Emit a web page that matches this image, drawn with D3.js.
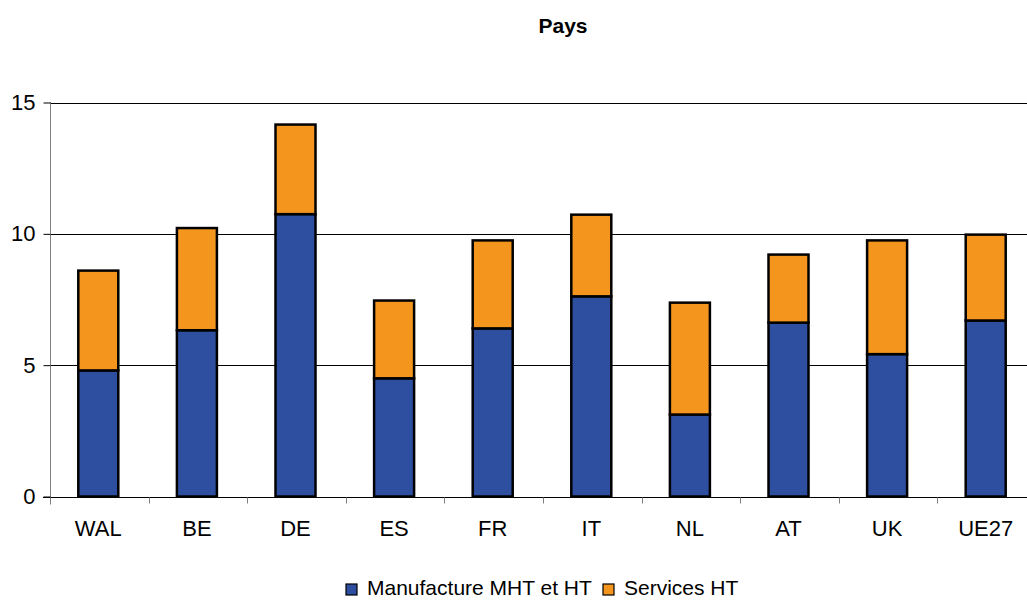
<!DOCTYPE html>
<html>
<head>
<meta charset="utf-8">
<script src="https://cdn.jsdelivr.net/npm/d3@7"></script>
<style>
  body { margin: 0; background: #fff; }
  svg { display: block; font-family: Arial, "Liberation Sans", sans-serif; }
</style>
</head>
<body>
<script>
// data
var categories = ["WAL", "BE", "DE", "ES", "FR", "IT", "NL", "AT", "UK", "UE27"];
var manufacture = [4.8, 6.33, 10.75, 4.5, 6.4, 7.62, 3.12, 6.62, 5.42, 6.7];
var services = [3.8, 3.89, 3.41, 2.96, 3.35, 3.11, 4.26, 2.59, 4.33, 3.27];
var seriesNames = ["Manufacture MHT et HT", "Services HT"];
var seriesColors = ["#2E4F9F", "#F4961E"];
var yTicks = [0, 5, 10, 15];

var width = 1027, height = 600;
var margin = {left: 50, top: 103, bottom: 104};
var plotRight = 1036;

var svg = d3.select("body").append("svg")
  .attr("width", width)
  .attr("height", height);

var x = d3.scaleBand()
  .domain(categories)
  .range([margin.left, plotRight]);

var y = d3.scaleLinear()
  .domain([0, 15])
  .range([height - margin.bottom + 0.5, margin.top - 0.5]);

// title
svg.append("text")
  .attr("x", 563)
  .attr("y", 33)
  .attr("text-anchor", "middle")
  .style("font-size", "21px")
  .style("font-weight", "bold")
  .text("Pays");

// gridlines
svg.append("g")
  .selectAll("line")
  .data(yTicks.slice(1))
  .enter().append("line")
  .attr("x1", margin.left)
  .attr("x2", width)
  .attr("y1", d => Math.round(y(d)) + 0.5)
  .attr("y2", d => Math.round(y(d)) + 0.5)
  .style("stroke", "#000")
  .style("stroke-width", 1);

// stacked bars
var stack = d3.stack().keys([0, 1])(categories.map((c, i) => [manufacture[i], services[i]]));
var barWidth = 40;

svg.append("g")
  .selectAll("g")
  .data(stack)
  .enter().append("g")
  .style("fill", (d, i) => seriesColors[i])
  .selectAll("rect")
  .data(d => d)
  .enter().append("rect")
  .attr("x", (d, i) => x(categories[i]) + x.bandwidth() / 2 - barWidth / 2 - 1)
  .attr("y", d => y(d[1]))
  .attr("width", barWidth)
  .attr("height", d => y(d[0]) - y(d[1]))
  .style("stroke", "#000")
  .style("stroke-width", 2.5);

// y axis
var yAxis = d3.axisLeft(y)
  .tickValues(yTicks)
  .tickSize(7)
  .tickPadding(8)
  .tickFormat(d3.format("d"));

var gy = svg.append("g")
  .attr("transform", "translate(" + (margin.left + 0.5) + ",0)")
  .call(yAxis);
gy.select(".domain").style("stroke", "#808080").attr("d", "M0," + (margin.top - 1) + "V" + (y(0) + 8));
gy.selectAll(".tick line").style("stroke", "#000");
gy.selectAll(".tick text").style("font-size", "22px").style("fill", "#000");

// x axis
var gx = svg.append("g")
  .attr("transform", "translate(0," + (Math.round(y(0)) + 0.5) + ")");
gx.append("line")
  .attr("x1", margin.left - 7)
  .attr("x2", width)
  .style("stroke", "#000");
gx.selectAll(".xtick")
  .data(categories)
  .enter().append("line")
  .attr("x1", d => Math.round(x(d)) + 0.5)
  .attr("x2", d => Math.round(x(d)) + 0.5)
  .attr("y1", 0)
  .attr("y2", 6)
  .style("stroke", "#808080");
gx.selectAll("text")
  .data(categories)
  .enter().append("text")
  .attr("x", d => x(d) + x.bandwidth() / 2 - 1)
  .attr("y", 38)
  .attr("text-anchor", "middle")
  .style("font-size", "22px")
  .text(d => d);

// legend
var legendItems = [{x: 346, name: seriesNames[0], color: seriesColors[0]},
                   {x: 603, name: seriesNames[1], color: seriesColors[1]}];
var legend = svg.append("g");
legend.selectAll("rect")
  .data(legendItems)
  .enter().append("rect")
  .attr("x", d => d.x)
  .attr("y", 584)
  .attr("width", 11)
  .attr("height", 11)
  .style("fill", d => d.color)
  .style("stroke", "#000")
  .style("stroke-width", 1.2);
legend.selectAll("text")
  .data(legendItems)
  .enter().append("text")
  .attr("x", d => d.x + 21)
  .attr("y", 595)
  .style("font-size", "21px")
  .text(d => d.name);
</script>
</body>
</html>
